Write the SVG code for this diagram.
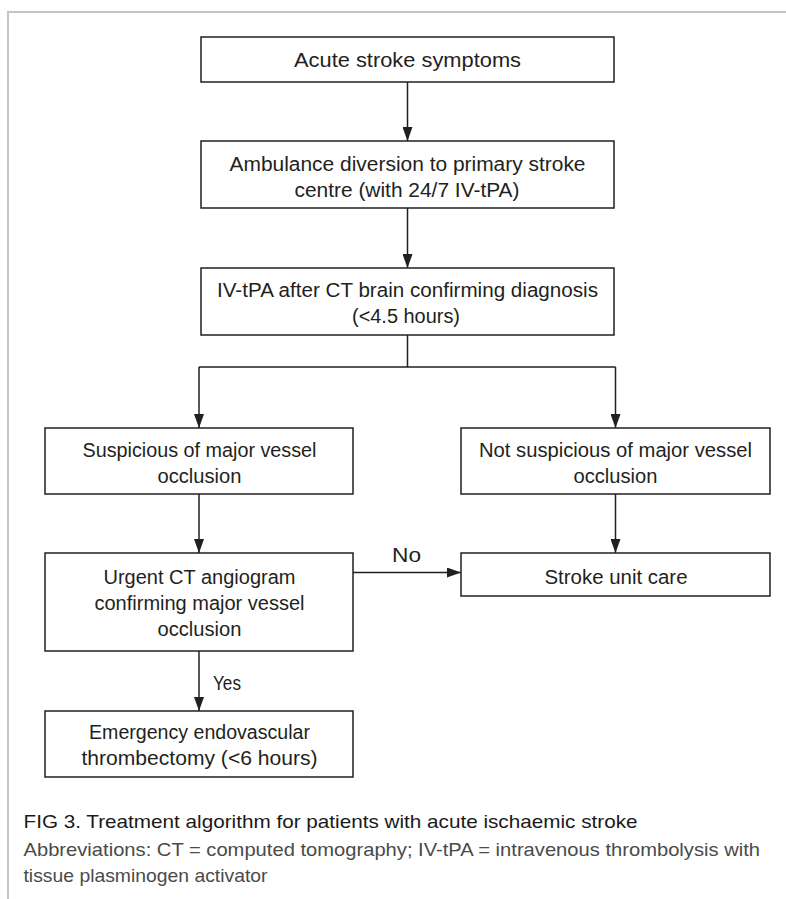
<svg xmlns="http://www.w3.org/2000/svg" width="786" height="899" viewBox="0 0 786 899">
<style>
.box{fill:#fff;stroke:#231f20;stroke-width:1.5}
.t{font-family:"Liberation Sans",Arial,sans-serif;font-size:20px;fill:#231f20;text-anchor:middle}
.c{fill:none;stroke:#231f20;stroke-width:1.5}
.cap{font-family:"Liberation Sans",Arial,sans-serif;font-size:19px}
</style>
<defs>
<marker id="ah" markerUnits="userSpaceOnUse" markerWidth="14" markerHeight="10" refX="14" refY="5" orient="auto">
<path d="M0,0 L14,5 L0,10 z" fill="#231f20"/>
</marker>
</defs>
<rect width="786" height="899" fill="#fff"/>
<path d="M8 899 V12 H786" fill="none" stroke="#c4c4c4" stroke-width="2"/>

<g id="connectors">
<path class="c" d="M407.5 82 V141" marker-end="url(#ah)"/>
<path class="c" d="M407.5 208 V268" marker-end="url(#ah)"/>
<path class="c" d="M407.5 335 V367 M199 367 H615.5"/>
<path class="c" d="M199 367 V428" marker-end="url(#ah)"/>
<path class="c" d="M615.5 367 V428" marker-end="url(#ah)"/>
<path class="c" d="M199 494 V553" marker-end="url(#ah)"/>
<path class="c" d="M615.5 494 V553" marker-end="url(#ah)"/>
<path class="c" d="M353 572.5 H461" marker-end="url(#ah)"/>
<path class="c" d="M199 651 V711" marker-end="url(#ah)"/>
<text class="t" x="406.5" y="561.5" textLength="29" lengthAdjust="spacingAndGlyphs">No</text>
<text class="t" x="213" y="690" style="text-anchor:start" textLength="28" lengthAdjust="spacingAndGlyphs">Yes</text>
</g>

<g id="n1">
<rect class="box" x="201" y="37" width="413" height="45"/>
<text class="t" x="407.5" y="67" textLength="227" lengthAdjust="spacingAndGlyphs">Acute stroke symptoms</text>
</g>
<g id="n2">
<rect class="box" x="201" y="141" width="413" height="67"/>
<text class="t" x="407.5" y="170.5" textLength="356" lengthAdjust="spacingAndGlyphs">Ambulance diversion to primary stroke</text>
<text class="t" x="407" y="196.5" textLength="225" lengthAdjust="spacingAndGlyphs">centre (with 24/7 IV-tPA)</text>
</g>
<g id="n3">
<rect class="box" x="201" y="268" width="413" height="67"/>
<text class="t" x="407.5" y="297" textLength="381" lengthAdjust="spacingAndGlyphs">IV-tPA after CT brain confirming diagnosis</text>
<text class="t" x="406" y="323" textLength="108" lengthAdjust="spacingAndGlyphs">(&lt;4.5 hours)</text>
</g>
<g id="n4">
<rect class="box" x="45" y="428" width="308" height="66"/>
<text class="t" x="199.5" y="456.5" textLength="234" lengthAdjust="spacingAndGlyphs">Suspicious of major vessel</text>
<text class="t" x="199.5" y="482.5" textLength="84" lengthAdjust="spacingAndGlyphs">occlusion</text>
</g>
<g id="n5">
<rect class="box" x="461" y="428" width="309" height="66"/>
<text class="t" x="615.5" y="456.5" textLength="273" lengthAdjust="spacingAndGlyphs">Not suspicious of major vessel</text>
<text class="t" x="615.5" y="482.5" textLength="84" lengthAdjust="spacingAndGlyphs">occlusion</text>
</g>
<g id="n6">
<rect class="box" x="45" y="553" width="308" height="98"/>
<text class="t" x="199.5" y="584" textLength="192" lengthAdjust="spacingAndGlyphs">Urgent CT angiogram</text>
<text class="t" x="199.5" y="610" textLength="210" lengthAdjust="spacingAndGlyphs">confirming major vessel</text>
<text class="t" x="199.5" y="636" textLength="84" lengthAdjust="spacingAndGlyphs">occlusion</text>
</g>
<g id="n7">
<rect class="box" x="461" y="553" width="309" height="43"/>
<text class="t" x="616" y="584" textLength="143" lengthAdjust="spacingAndGlyphs">Stroke unit care</text>
</g>
<g id="n8">
<rect class="box" x="45" y="711" width="308" height="66"/>
<text class="t" x="199.5" y="738.5" textLength="221" lengthAdjust="spacingAndGlyphs">Emergency endovascular</text>
<text class="t" x="199.5" y="764.5" textLength="236" lengthAdjust="spacingAndGlyphs">thrombectomy (&lt;6 hours)</text>
</g>

<g id="caption">
<text class="cap" x="23.5" y="828" fill="#1a1a1a" textLength="614" lengthAdjust="spacingAndGlyphs">FIG 3. Treatment algorithm for patients with acute ischaemic stroke</text>
<text class="cap" x="23.5" y="855.5" fill="#4a4a4a" textLength="736.5" lengthAdjust="spacingAndGlyphs">Abbreviations: CT = computed tomography; IV-tPA = intravenous thrombolysis with</text>
<text class="cap" x="23.5" y="882" fill="#4a4a4a" textLength="244" lengthAdjust="spacingAndGlyphs">tissue plasminogen activator</text>
</g>
</svg>
